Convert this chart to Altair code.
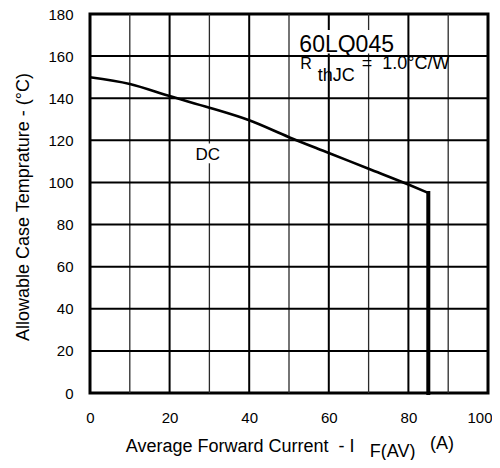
import altair as alt
import pandas as pd

FONT = "Liberation Sans, Arial, Helvetica, sans-serif"
NB = "\u00a0"

# Derating curve (DC)
current = [0, 10, 20, 30, 40, 50, 60, 70, 80, 85]
temp = [150, 146.8, 141, 135.5, 129.5, 121.5, 114, 106.5, 99, 95]
# vertical drop at the end of the curve
drop_current = [85, 85]
drop_temp = [95, 0]

x_ticks = list(range(0, 101, 20))
x_major_grid = [20, 40, 60, 80]
x_minor_grid = [10, 30, 50, 70, 90]
y_ticks = list(range(0, 181, 20))
y_grid = [20, 40, 60, 80, 100, 120, 140, 160]

# annotation texts (data coordinates)
ann_text = ["60LQ045", "R", "thJC", "=" + NB + NB + "1.0°C/W", "DC",
            "Average Forward Current" + NB + NB + "- I", "F(AV)", "(A)"]
ann_x = [52.6, 52.8, 57.2, 68.3, 29.6, 9.0, 70.3, 85.4]
ann_y = [162.0, 154.0, 148.0, 154.0, 110.6, -28.0, -30.4, -26.6]
ann_size = [23, 16, 18, 18, 17, 18, 18, 18]
ann_align = ["left", "left", "left", "left", "center", "left", "left", "left"]

# white backgrounds behind some labels
bg_x = [52.3, 26.4]
bg_x2 = [77.1, 33.3]
bg_y = [161.2, 109.1]
bg_y2 = [172.4, 118.5]

curve = pd.DataFrame({"I": current, "T": temp})
drop = pd.DataFrame({"I": drop_current, "T": drop_temp})
ann = pd.DataFrame({"t": ann_text, "x": ann_x, "y": ann_y, "s": ann_size, "a": ann_align})
bg = pd.DataFrame({"x": bg_x, "x2": bg_x2, "y": bg_y, "y2": bg_y2})
gx_major = pd.DataFrame({"I": x_major_grid})
gx_minor = pd.DataFrame({"I": x_minor_grid})
gy = pd.DataFrame({"T": y_grid})

xs = alt.Scale(domain=[0, 100], nice=False, zero=False)
ys = alt.Scale(domain=[0, 180], nice=False, zero=False)

last = "datum.value === 100"
xaxis = alt.Axis(
    values=x_ticks,
    grid=False, ticks=False, domain=False,
    labelPadding=17, labelFontSize=15, labelFont=FONT, labelColor="black",
    labelFlush=False, labelOverlap=False,
    labelAlign={"condition": {"test": last, "value": "right"}, "value": "center"},
    labelOffset={"condition": {"test": last, "value": 4}, "value": 0},
    title=None,
)
yaxis = alt.Axis(
    values=y_ticks,
    grid=False, ticks=False, domain=False,
    labelPadding=17, labelFontSize=15, labelFont=FONT, labelColor="black",
    labelOverlap=False,
    title="Allowable Case Temprature - (°C)",
    titleFont=FONT, titleFontSize=18, titleFontWeight="normal", titleColor="black",
    titleX=-62, titleY=192.5, titleAngle=-90, titleBaseline="alphabetic", titleAlign="center",
)

grid_minor = alt.Chart(gx_minor).mark_rule(color="#2a2a2a", strokeWidth=1.3).encode(
    x=alt.X("I:Q", scale=xs, axis=xaxis)
)
grid_major = alt.Chart(gx_major).mark_rule(color="black", strokeWidth=2).encode(
    x=alt.X("I:Q", scale=xs, axis=xaxis)
)
grid_h = alt.Chart(gy).mark_rule(color="black", strokeWidth=2).encode(
    y=alt.Y("T:Q", scale=ys, axis=yaxis)
)

bg_rect = alt.Chart(bg).mark_rect(color="white").encode(
    x=alt.X("x:Q", scale=xs, axis=xaxis), x2="x2:Q",
    y=alt.Y("y:Q", scale=ys, axis=yaxis), y2="y2:Q",
)

line = alt.Chart(curve).mark_line(color="black", strokeWidth=2.6, interpolate="monotone").encode(
    x=alt.X("I:Q", scale=xs, axis=xaxis),
    y=alt.Y("T:Q", scale=ys, axis=yaxis),
)

drop_line = alt.Chart(drop).mark_line(color="black", strokeWidth=4, strokeCap="square").encode(
    x=alt.X("I:Q", scale=xs, axis=xaxis),
    y=alt.Y("T:Q", scale=ys, axis=yaxis),
)

text_layers = []
for al in ["left", "center"]:
    text_layers.append(
        alt.Chart(ann).transform_filter(alt.datum.a == al).mark_text(
            align=al, baseline="alphabetic", font=FONT, color="black"
        ).encode(
            x=alt.X("x:Q", scale=xs, axis=xaxis),
            y=alt.Y("y:Q", scale=ys, axis=yaxis),
            text="t:N",
            size=alt.Size("s:Q", scale=None, legend=None),
        )
    )

chart = alt.layer(grid_minor, grid_major, grid_h, bg_rect, line, drop_line, *text_layers).properties(
    width=398,
    height=379,
    padding={"left": 82, "top": 6, "right": 4, "bottom": 67},
    autosize=alt.AutoSizeParams(type="none"),
    background="white",
).configure_view(stroke="black", strokeWidth=3)

chart.save("out.html", embed_options={"renderer": "svg", "actions": False})
